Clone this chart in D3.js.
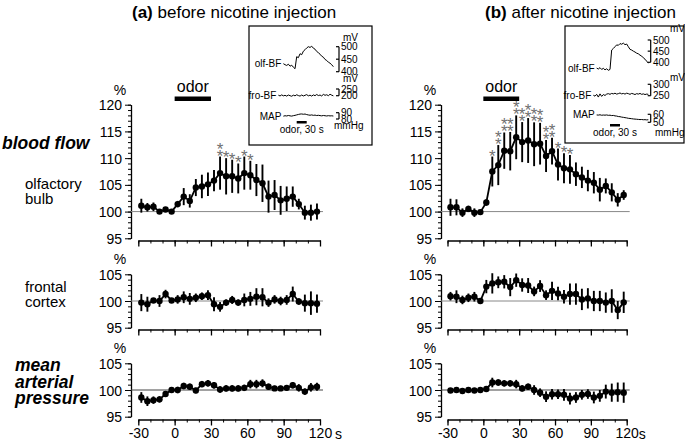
<!DOCTYPE html>
<html>
<head>
<meta charset="utf-8">
<script src="https://cdn.jsdelivr.net/npm/d3@7"></script>
<style>
  body { margin: 0; background: #fff; }
  svg text { font-family: "Liberation Sans", Arial, sans-serif; fill: #000; }
</style>
</head>
<body>
<svg id="fig" width="685" height="447"></svg>
<script>
// bin centres (s) relative to odor onset
const timeBins = [-27.5, -22.5, -17.5, -12.5, -7.5, -2.5, 2.5, 7.5, 12.5, 17.5, 22.5, 27.5, 32.5, 37.5, 42.5,
                  47.5, 52.5, 57.5, 62.5, 67.5, 72.5, 77.5, 82.5, 87.5, 92.5, 97.5, 102.5, 107.5, 112.5, 117.5];
const xTicks = [-30, -20, -10, 0, 10, 20, 30, 40, 50, 60, 70, 80, 90, 100, 110, 120];
const xLabels = [-30, 0, 30, 60, 90, 120];

// olfactory bulb blood flow (%)
const olfBefore = [101.1, 100.8, 100.9, 100.0, 100.4, 100.0, 101.4, 102.8, 102.0, 104.5, 104.7, 105.1, 105.8, 107.2, 106.6,
                   106.6, 106.2, 107.2, 106.8, 105.9, 105.3, 102.8, 103.1, 102.1, 102.4, 102.8, 101.4, 99.8, 99.8, 100.0];
const olfBeforeSem = [1.3, 0.8, 0.8, 0.3, 0.3, 0.3, 0.6, 1.6, 1.25, 1.6, 2.2, 2.2, 2.0, 3.1, 3.4,
                      3.1, 2.8, 3.1, 2.7, 3.0, 3.5, 3.0, 2.8, 2.7, 2.3, 1.9, 1.0, 1.3, 1.5, 1.5];
const olfBeforeSig = [0, 0, 0, 0, 0, 0, 0, 0, 0, 0, 0, 0, 0, 2, 1, 1, 1, 1, 1, 0, 0, 0, 0, 0, 0, 0, 0, 0, 0, 0];

const olfAfter = [100.8, 100.8, 99.8, 100.5, 99.8, 99.9, 101.7, 107.5, 108.7, 111.4, 111.3, 113.9, 113.0, 113.3, 112.6,
                  112.7, 110.4, 111.3, 108.8, 108.1, 107.9, 107.0, 106.4, 105.8, 105.4, 104.1, 104.8, 103.6, 102.2, 103.1];
const olfAfterSem = [1.6, 1.5, 0.8, 0.6, 0.8, 0.3, 0.6, 2.8, 3.75, 3.4, 3.6, 4.1, 3.75, 4.2, 4.1,
                     3.9, 3.0, 2.5, 3.0, 2.8, 2.7, 2.2, 2.0, 2.0, 2.0, 2.2, 1.4, 1.7, 1.25, 0.9];
const olfAfterSig = [0, 0, 0, 0, 0, 0, 0, 1, 2, 2, 2, 2, 2, 2, 2, 2, 2, 2, 1, 1, 1, 0, 0, 0, 0, 0, 0, 0, 0, 0];

// frontal cortex blood flow (%)
const froBefore = [99.7, 99.4, 100.1, 100.0, 101.3, 100.1, 100.3, 100.7, 100.4, 100.6, 100.9, 101.1, 99.4, 98.9, 99.7,
                   100.2, 99.7, 100.2, 100.4, 100.8, 100.7, 99.7, 100.3, 100.0, 100.2, 101.3, 99.9, 99.6, 99.6, 99.5];
const froBeforeSem = [1.6, 1.4, 0.4, 1.1, 0.8, 0.4, 0.8, 1.1, 1.1, 0.8, 0.7, 0.9, 1.3, 0.9, 0.6,
                      0.75, 0.6, 1.2, 1.3, 1.6, 1.7, 0.8, 0.8, 0.8, 0.9, 1.4, 0.6, 1.6, 2.2, 1.7];
const froAfter = [100.9, 100.8, 100.2, 100.6, 100.8, 100.0, 102.7, 103.3, 103.5, 103.6, 102.6, 103.9, 103.0, 102.9, 101.8,
                  102.8, 101.1, 101.9, 101.4, 100.8, 101.3, 101.3, 100.3, 100.5, 100.0, 100.0, 99.7, 100.0, 98.3, 99.75];
const froAfterSem = [0.8, 1.2, 0.8, 0.8, 0.9, 0.3, 1.25, 1.9, 1.1, 1.25, 1.7, 1.25, 1.25, 1.4, 0.9,
                     1.1, 0.9, 1.7, 1.25, 1.25, 2.0, 2.0, 2.0, 1.9, 1.9, 1.9, 1.9, 2.2, 1.7, 2.0];

// mean arterial pressure (%)
const mapBefore = [98.6, 97.9, 98.1, 98.25, 99.25, 100.0, 100.0, 100.75, 100.6, 99.9, 101.1, 101.25, 100.9, 100.1, 100.3,
                   100.3, 100.3, 100.4, 101.1, 101.1, 101.25, 100.6, 100.3, 100.3, 100.4, 100.9, 100.4, 99.7, 100.5, 100.6];
const mapBeforeSem = [1.0, 0.9, 0.7, 0.6, 0.5, 0.3, 0.6, 0.6, 0.6, 0.5, 0.6, 0.6, 0.6, 0.6, 0.6,
                      0.6, 0.6, 0.6, 0.8, 0.8, 0.75, 0.6, 0.5, 0.5, 0.5, 0.6, 0.7, 0.6, 0.8, 0.75];
const mapAfter = [99.9, 100.0, 99.8, 100.0, 99.9, 100.0, 100.2, 101.4, 101.4, 101.25, 101.25, 101.1, 100.3, 100.6, 100.0,
                  99.5, 98.75, 99.2, 99.2, 99.1, 98.4, 98.6, 99.1, 99.25, 98.6, 98.9, 99.7, 99.5, 99.6, 99.5];
const mapAfterSem = [0.3, 0.3, 0.3, 0.3, 0.4, 0.3, 0.5, 0.9, 0.6, 0.6, 0.6, 0.8, 0.6, 0.6, 0.9,
                     0.8, 1.0, 1.0, 0.9, 1.1, 1.1, 1.0, 0.9, 0.9, 1.1, 1.1, 1.3, 1.7, 1.8, 1.9];

// example raw traces in the insets, sampled every 5 s
const traceTimeA = [-40, -35, -30, -25, -20, -15, -10, -5, 0, 5, 10, 15, 20, 25, 30, 35, 40, 45, 50, 55, 60,
                    65, 70, 75, 80, 85, 90, 95, 100, 105, 110];
const olfTraceA = [432, 428, 425, 430, 422, 426, 418, 412, 460, 456, 472, 468, 482, 488, 495, 500, 497, 502, 494, 490, 481,
                   476, 470, 462, 458, 449, 445, 438, 434, 428, 420];
const froTimeA = [-55, -50, -45, -40, -35, -30, -25, -20, -15, -10, -5, 0, 5, 10, 15, 20, 25, 30, 35, 40, 45,
                  50, 55, 60, 65, 70, 75, 80, 85, 90, 95, 100, 105, 110];
const froTraceA = [204, 198, 206, 199, 203, 197, 205, 200, 196, 204, 199, 207, 201, 197, 205, 198, 203, 208, 199, 204, 197,
                   206, 200, 209, 201, 205, 198, 210, 203, 207, 200, 211, 204, 199];
const mapTraceA = [84.5, 85.2, 84.8, 85.6, 85.0, 84.6, 85.3, 85.8, 86.5, 87.2, 87.8, 88.0, 87.5, 87.9, 87.0, 86.4, 86.0,
                   86.5, 85.8, 86.2, 85.5, 85.9, 85.4, 85.0, 85.6, 85.2, 84.8, 85.3, 84.9, 85.1, 84.7];

const traceTimeB = [-40, -35, -30, -25, -20, -15, -10, -5, 0, 5, 10, 15, 20, 25, 30, 35, 40, 45, 50, 55, 60,
                    65, 70, 75, 80, 85, 90, 95, 100, 105, 110, 115];
const olfTraceB = [374, 370, 376, 368, 373, 366, 371, 364, 368, 455, 462, 470, 478, 476, 484, 481, 486, 479, 482, 470, 458,
                   455, 450, 446, 441, 438, 432, 428, 420, 414, 405, 396];
const froTimeB = [-50, -45, -40, -35, -30, -25, -20, -15, -10, -5, 0, 5, 10, 15, 20, 25, 30, 35, 40, 45, 50,
                  55, 60, 65, 70, 75, 80, 85, 90, 95, 100, 105, 110, 115];
const froTraceB = [252, 248, 256, 244, 258, 247, 255, 251, 257, 259, 256, 260, 258, 261, 257, 259, 262, 258, 260, 257, 261,
                   259, 256, 260, 258, 255, 259, 257, 260, 256, 258, 255, 257, 256];
const mapTraceB = [59.2, 59.0, 59.4, 58.8, 59.1, 58.9, 59.2, 58.7, 58.9, 58.4, 58.6, 58.0, 57.8, 57.2, 57.0, 56.5, 56.2,
                   55.8, 55.5, 55.0, 54.8, 54.5, 54.2, 54.0, 53.8, 53.6, 53.4, 53.5, 53.2, 53.3, 53.0, 53.2];

const svg = d3.select('#fig');
const FONT = '"Liberation Sans", Arial, sans-serif';

// row layout (shared by both panels)
const rows = [
  { domain: [95, 120], range: [238.3, 104.7], xAxisY: 240.5, refCol: '#888' },
  { domain: [95, 105], range: [327.7, 274.3], xAxisY: 329.5, refCol: '#888' },
  { domain: [95, 105], range: [416.7, 363.3], xAxisY: 419.5, refCol: '#444' }
];

const panels = [
  { tag: '(a)', title: ' before nicotine injection', titleX: 132, axisX: 131, xRange: [138.3, 320], sUnit: ' s',
    series: [[olfBefore, olfBeforeSem, olfBeforeSig], [froBefore, froBeforeSem, null], [mapBefore, mapBeforeSem, null]] },
  { tag: '(b)', title: ' after nicotine injection', titleX: 485, axisX: 441, xRange: [447.5, 626.7], sUnit: 's',
    series: [[olfAfter, olfAfterSem, olfAfterSig], [froAfter, froAfterSem, null], [mapAfter, mapAfterSem, null]] }
];

panels.forEach(p => {
  let x = d3.scaleLinear().domain([-30, 120]).range(p.xRange);

  // title
  let t = svg.append('text').attr('x', p.titleX).attr('y', 18).style('font-size', '17px');
  t.append('tspan').text(p.tag).style('font-weight', 'bold');
  t.append('tspan').text(p.title);

  // odor marker
  svg.append('text').text('odor')
     .attr('x', x(15)).attr('y', 92)
     .style('text-anchor', 'middle').style('font-size', '16px');
  svg.append('rect')
     .attr('x', x(0)).attr('width', x(30) - x(0))
     .attr('y', 96.5).attr('height', 4.5)
     .style('fill', '#000');

  rows.forEach((r, ri) => {
    let y = d3.scaleLinear().domain(r.domain).range(r.range);
    let g = svg.append('g');
    let [means, sems, sig] = p.series[ri];

    // y axis, minor ticks every 1 %
    let minor = d3.range(r.domain[0], r.domain[1] + 1);
    g.append('g')
     .attr('transform', `translate(${p.axisX},0)`)
     .call(d3.axisLeft(y).tickValues(minor).tickSize(3).tickSizeOuter(0).tickFormat(''))
     .call(a => a.selectAll('line').style('stroke-width', 1));
    let major = minor.filter(v => v % 5 === 0);
    g.append('g')
     .attr('transform', `translate(${p.axisX},0)`)
     .call(d3.axisLeft(y).tickValues(major).tickSize(6).tickSizeOuter(0).tickPadding(3))
     .call(a => a.select('.domain').style('stroke-width', 1.3))
     .call(a => a.selectAll('text').style('font-size', '14px').style('font-family', FONT).attr('dy', '0.36em'));
    g.append('text').text('%')
     .attr('x', p.axisX - 11).attr('y', r.range[1] - 10)
     .style('text-anchor', 'middle').style('font-size', '14px');

    // x axis
    let xa = g.append('g').attr('transform', `translate(0,${r.xAxisY})`);
    xa.call(d3.axisBottom(x).tickValues(xTicks).tickSize(3).tickSizeOuter(0).tickFormat(''))
      .call(a => a.select('.domain').style('stroke-width', 1.3));
    let xb = g.append('g').attr('transform', `translate(0,${r.xAxisY})`);
    xb.call(d3.axisBottom(x).tickValues(xLabels).tickSize(6).tickSizeOuter(0).tickPadding(3)
              .tickFormat(ri === 2 ? (d => d) : ''))
      .call(a => a.select('.domain').remove())
      .call(a => a.selectAll('line').style('stroke-width', 1.3))
      .call(a => a.selectAll('text').style('font-size', '14px').style('font-family', FONT));
    if (ri === 2) {
      g.append('text').text(p.sUnit.trim())
       .attr('x', x(120) + (p.sUnit === ' s' ? 15 : 12)).attr('y', r.xAxisY + 19)
       .style('font-size', '14px');
    }

    // 100 % reference line
    g.append('line')
     .attr('x1', p.axisX).attr('x2', x(120) + 3)
     .attr('y1', y(100)).attr('y2', y(100))
     .style('stroke', r.refCol).style('stroke-width', 1);

    // error bars
    g.selectAll('line.err').data(means).enter().append('line').classed('err', true)
     .attr('x1', (d, i) => x(timeBins[i])).attr('x2', (d, i) => x(timeBins[i]))
     .attr('y1', (d, i) => y(d - sems[i])).attr('y2', (d, i) => y(d + sems[i]))
     .style('stroke', '#000').style('stroke-width', 1.9);

    // mean line and dots
    let line = d3.line().x((d, i) => x(timeBins[i])).y(d => y(d));
    g.append('path').datum(means).attr('d', line)
     .style('fill', 'none').style('stroke', '#000').style('stroke-width', 1.8);
    g.selectAll('circle').data(means).enter().append('circle')
     .attr('cx', (d, i) => x(timeBins[i])).attr('cy', d => y(d)).attr('r', 3.2)
     .style('fill', '#000');

    // significance asterisks
    if (sig) {
      means.forEach((d, i) => {
        for (let k = 0; k < sig[i]; k++) {
          let yc = y(d + sems[i]) - 4.5 - k * 7;
          g.append('text').text('*')
           .attr('x', x(timeBins[i])).attr('y', yc + 9.5)
           .style('text-anchor', 'middle').style('font-size', '17px').style('fill', '#707070');
        }
      });
    }
  });
});

// row labels on the left
function leftLabel(lines, x, y0, dy, size, bold) {
  lines.forEach((s, i) => {
    svg.append('text').text(s).attr('x', x).attr('y', y0 + i * dy)
       .style('font-size', size + 'px')
       .style('font-weight', bold ? 'bold' : 'normal')
       .style('font-style', bold ? 'italic' : 'normal');
  });
}
leftLabel(['blood flow'], 2, 149, 0, 17.5, true);
leftLabel(['olfactory', 'bulb'], 25, 189, 15, 15, false);
leftLabel(['frontal', 'cortex'], 25, 292, 15, 15, false);
leftLabel(['mean', 'arterial', 'pressure'], 15, 371, 16.5, 17.5, true);

// insets with example traces
const insets = [
  { box: [249, 26, 123, 119], t0: 296.7, scaleX: 339, numX: 341,
    mV: [[343, 41], [343, 81.5]], mmHg: [334, 129], odorY: 133,
    olf: { time: traceTimeA, vals: olfTraceA, dom: [400, 500], rng: [71.7, 46.7], ticks: [500, 450, 400] },
    fro: { time: froTimeA, vals: froTraceA, dom: [200, 250], rng: [95.7, 89], ticks: [250, 200] },
    map: { time: traceTimeA, vals: mapTraceA, dom: [80, 90], rng: [119, 112.7], ticks: [90, 80] } },
  { box: [565, 26, 119, 117], t0: 610, scaleX: 650.7, numX: 653,
    mV: [[670, 32], [670, 80.5]], mmHg: [655, 135.5], odorY: 136,
    olf: { time: traceTimeB, vals: olfTraceB, dom: [400, 500], rng: [62.3, 40], ticks: [500, 450, 400] },
    fro: { time: froTimeB, vals: froTraceB, dom: [250, 300], rng: [95.7, 84.3], ticks: [300, 250] },
    map: { time: traceTimeB, vals: mapTraceB, dom: [50, 60], rng: [122.3, 114.3], ticks: [60, 50] } }
];

insets.forEach(c => {
  let g = svg.append('g').style('font-size', '10px');
  g.append('rect').attr('x', c.box[0]).attr('y', c.box[1]).attr('width', c.box[2]).attr('height', c.box[3])
   .style('fill', '#fff').style('stroke', '#000').style('stroke-width', 1.2);
  let xs = d3.scaleLinear().domain([0, 30]).range([c.t0, c.t0 + 10]);

  [['olf-BF', c.olf], ['fro-BF', c.fro], ['MAP', c.map]].forEach(([name, tr]) => {
    let ys = d3.scaleLinear().domain(tr.dom).range(tr.rng);
    g.append('path').datum(tr.vals)
     .attr('d', d3.line().x((d, i) => xs(tr.time[i])).y(d => ys(d)))
     .style('fill', 'none').style('stroke', '#000').style('stroke-width', 1);
    g.append('text').text(name)
     .attr('x', xs(tr.time[0]) - 2).attr('y', ys(tr.vals[0]) + 3.5)
     .style('text-anchor', 'end');
    // scale bracket
    g.append('line').attr('x1', c.scaleX).attr('x2', c.scaleX)
     .attr('y1', ys(tr.dom[1])).attr('y2', ys(tr.dom[0]))
     .style('stroke', '#000').style('stroke-width', 1.2);
    g.selectAll(null).data(tr.ticks).enter().append('line')
     .attr('x1', c.scaleX - 3).attr('x2', c.scaleX)
     .attr('y1', d => ys(d)).attr('y2', d => ys(d))
     .style('stroke', '#000').style('stroke-width', 1.2);
    g.selectAll(null).data(tr.ticks).enter().append('text')
     .text(d => d).attr('x', c.numX).attr('y', d => ys(d) + 3.6);
  });
  c.mV.forEach(([mx, my]) => g.append('text').text('mV').attr('x', mx).attr('y', my));
  g.append('text').text('mmHg').attr('x', c.mmHg[0]).attr('y', c.mmHg[1]);
  g.append('rect').attr('x', xs(0)).attr('width', xs(30) - xs(0))
   .attr('y', c.odorY - 12).attr('height', 2.5).style('fill', '#000');
  g.append('text').text('odor, 30 s').attr('x', xs(15)).attr('y', c.odorY)
   .style('text-anchor', 'middle');
});
</script>
</body>
</html>
